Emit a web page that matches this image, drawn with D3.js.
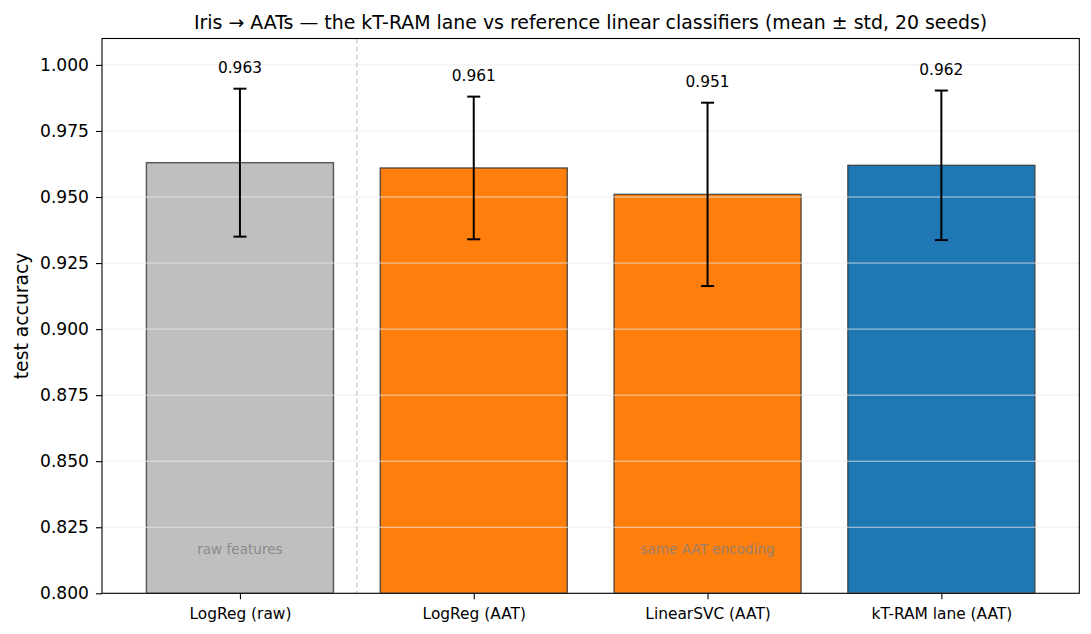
<!DOCTYPE html>
<html lang="en">
<head>
    <meta charset="UTF-8">
    <title>Iris AATs accuracy</title>
    <script src="https://d3js.org/d3.v7.min.js"></script>
    <style>
        body { margin: 0; background: #fff; }
        svg, svg text { font-family: "DejaVu Sans", sans-serif; }
        .tick text { fill: #000; }
    </style>
</head>
<body>
<script>
    const width = 1091;
    const height = 634;

    // values
    const models = ["LogReg (raw)", "LogReg (AAT)", "LinearSVC (AAT)", "kT-RAM lane (AAT)"];
    const means  = [0.963, 0.961, 0.951, 0.962];
    const stds   = [0.028, 0.027, 0.0347, 0.0283];
    const colors = ["#bfbfbf", "#ff7f0e", "#ff7f0e", "#1f77b4"];
    const yTicks = [0.800, 0.825, 0.850, 0.875, 0.900, 0.925, 0.950, 0.975, 1.000];
    const notes  = [{i: 0, text: "raw features"}, {i: 2, text: "same AAT encoding"}];

    const margin = {top: 38.5, right: 11.7, bottom: 40.7, left: 102};
    const iw = width - margin.left - margin.right;
    const ih = height - margin.top - margin.bottom;

    const svg = d3.select("body").append("svg")
        .attr("width", width).attr("height", height);

    const g = svg.append("g")
        .attr("transform", `translate(${margin.left},${margin.top})`);

    // categorical positions as numbers, like matplotlib bar x = 0..3
    const x = d3.scaleLinear().domain([-0.59, 3.59]).range([0, iw]);
    const y = d3.scaleLinear().domain([0.80, 1.01]).range([ih, 0]);
    const barW = x(0.8) - x(0);

    // bars
    g.selectAll("rect.bar")
        .data(means)
        .enter()
        .append("rect")
        .attr("class", "bar")
        .attr("x", (d, i) => x(i) - barW / 2)
        .attr("y", d => y(d))
        .attr("width", barW)
        .attr("height", d => y(0.80) - y(d))
        .attr("fill", (d, i) => colors[i])
        .attr("stroke", "#333")
        .attr("stroke-opacity", 0.8)
        .attr("stroke-width", 1.4);

    // grid on top of bars
    g.selectAll("line.grid")
        .data(yTicks)
        .enter()
        .append("line")
        .attr("class", "grid")
        .attr("x1", 0).attr("x2", iw)
        .attr("y1", d => y(d)).attr("y2", d => y(d))
        .attr("stroke", "#eaeaea")
        .attr("stroke-opacity", 0.8)
        .attr("stroke-width", 1);

    // separator between raw and AAT groups
    g.append("line")
        .attr("x1", x(0.5)).attr("x2", x(0.5))
        .attr("y1", 0).attr("y2", ih)
        .attr("stroke", "#c8c8c8")
        .attr("stroke-width", 1.2)
        .attr("stroke-dasharray", "5,3");

    // error bars
    const err = g.selectAll("g.err")
        .data(means)
        .enter()
        .append("g")
        .attr("class", "err")
        .attr("stroke", "#000")
        .attr("stroke-width", 2);
    err.append("line")
        .attr("x1", (d, i) => x(i)).attr("x2", (d, i) => x(i))
        .attr("y1", (d, i) => y(d - stds[i])).attr("y2", (d, i) => y(d + stds[i]));
    err.append("line")
        .attr("x1", (d, i) => x(i) - 6.5).attr("x2", (d, i) => x(i) + 6.5)
        .attr("y1", (d, i) => y(d + stds[i])).attr("y2", (d, i) => y(d + stds[i]));
    err.append("line")
        .attr("x1", (d, i) => x(i) - 6.5).attr("x2", (d, i) => x(i) + 6.5)
        .attr("y1", (d, i) => y(d - stds[i])).attr("y2", (d, i) => y(d - stds[i]));

    // value labels above error bars
    g.selectAll("text.val")
        .data(means)
        .enter()
        .append("text")
        .attr("class", "val")
        .attr("x", (d, i) => x(i))
        .attr("y", (d, i) => y(d + stds[i]) - 16)
        .attr("text-anchor", "middle")
        .attr("font-size", 15.4)
        .text(d => d.toFixed(3));

    // notes inside bars
    g.selectAll("text.note")
        .data(notes)
        .enter()
        .append("text")
        .attr("class", "note")
        .attr("x", d => x(d.i))
        .attr("y", y(0.8165))
        .attr("dy", "0.35em")
        .attr("text-anchor", "middle")
        .attr("font-size", 13.6)
        .attr("fill", "#808080")
        .attr("fill-opacity", 0.85)
        .text(d => d.text);

    // axes
    const yAxis = d3.axisLeft(y).tickValues(yTicks)
        .tickFormat(d3.format(".3f")).tickSize(6).tickPadding(7);
    g.append("g")
        .call(yAxis)
        .attr("font-family", "DejaVu Sans")
        .call(a => a.select(".domain").remove())
        .call(a => a.selectAll(".tick text").attr("font-size", 17.1))
        .call(a => a.selectAll(".tick line").attr("stroke-width", 1.1));

    const xAxis = d3.axisBottom(x).tickValues(d3.range(models.length))
        .tickFormat(i => models[i]).tickSize(6).tickPadding(9);
    g.append("g")
        .attr("transform", `translate(0,${ih})`)
        .call(xAxis)
        .attr("font-family", "DejaVu Sans")
        .call(a => a.select(".domain").remove())
        .call(a => a.selectAll(".tick text").attr("font-size", 15.4))
        .call(a => a.selectAll(".tick line").attr("stroke-width", 1.1));

    // frame
    g.append("rect")
        .attr("width", iw).attr("height", ih)
        .attr("fill", "none")
        .attr("stroke", "#000")
        .attr("stroke-width", 1.1);

    // titles
    svg.append("text")
        .attr("x", margin.left + iw / 2)
        .attr("y", 29)
        .attr("text-anchor", "middle")
        .attr("font-size", 18.9)
        .text("Iris \u2192 AATs \u2014 the kT-RAM lane vs reference linear classifiers (mean \u00b1 std, 20 seeds)");

    svg.append("text")
        .attr("transform", `translate(27.5,${margin.top + ih / 2}) rotate(-90)`)
        .attr("text-anchor", "middle")
        .attr("font-size", 18.8)
        .text("test accuracy");
</script>
</body>
</html>
